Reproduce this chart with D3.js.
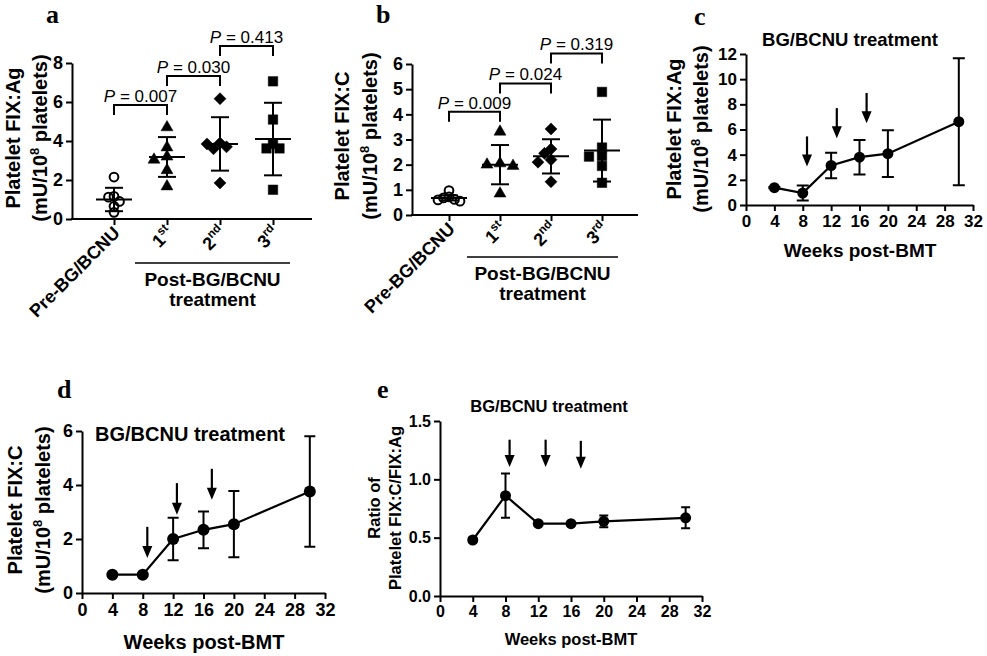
<!DOCTYPE html>
<html><head><meta charset="utf-8">
<script src="https://cdn.jsdelivr.net/npm/d3@7"></script>
<style>
body{margin:0;background:#fff}
svg{display:block}
</style>
</head><body>
<svg id="chart" width="987" height="656"></svg>
<script>
// ---------------- DATA ----------------
const groups = ["Pre-BG/BCNU", "1st", "2nd", "3rd"];
// panel a: platelet FIX:Ag (mU/10^8 platelets), individual values per group
const agValues = [
  [2.15, 1.16, 1.12, 0.9, 0.65, 0.34],
  [4.7, 3.67, 3.2, 3.04, 2.5, 1.67],
  [6.17, 3.9, 3.85, 3.7, 3.6, 1.85],
  [7.06, 5.1, 3.85, 3.62, 3.62, 1.5]
];
const agMean = [1.0, 3.18, 3.85, 4.1];
const agSD = [0.6, 1.02, 1.37, 1.86];
const agP = ["0.007", "0.030", "0.413"];
const agBracket = [5.85, 7.33, 8.87];
const agTicks = [0, 2, 4, 6, 8];

// panel b: platelet FIX:C
const cValues = [
  [0.97, 0.72, 0.68, 0.62, 0.6, 0.55],
  [3.31, 2.05, 2.0, 1.95, 0.85],
  [3.42, 2.62, 2.45, 2.2, 2.1, 1.32],
  [4.89, 2.68, 2.35, 2.32, 1.95, 1.28]
];
const cMean = [0.68, 2.0, 2.33, 2.56];
const cSD = [0.1, 0.78, 0.68, 1.23];
const cP = ["0.009", "0.024", "0.319"];
const cBracket = [4.1, 5.23, 6.42];
const cTicks = [0, 1, 2, 3, 4, 5, 6];

// time courses
const weeks = [4, 8, 12, 16, 20, 30];
const weekTicks = [0, 4, 8, 12, 16, 20, 24, 28, 32];
const timeAgMean = [1.38, 0.95, 3.14, 3.8, 4.08, 6.62];
const timeAgSD = [0.05, 0.6, 1.02, 1.37, 1.86, 5.05];
const timeCMean = [0.68, 0.68, 2.0, 2.34, 2.55, 3.76];
const timeCSD = [0.04, 0.04, 0.79, 0.68, 1.23, 2.05];
const ratioMean = [0.48, 0.86, 0.62, 0.62, 0.64, 0.67];
const ratioSD = [0.02, 0.19, 0.01, 0.01, 0.05, 0.09];
const agTimeTicks = [0, 2, 4, 6, 8, 10, 12];
const cTimeTicks = [0, 2, 4, 6];
const ratioTicks = [0, 0.5, 1.0, 1.5];

// treatment arrows (week, from value, to value)
const arrowsAgWeek = [8.6, 12.8, 17.0], arrowsAgFrom = [5.45, 7.7, 8.9], arrowsAgTo = [3.05, 5.3, 6.5];
const arrowsCWeek = [8.6, 12.5, 17.1], arrowsCFrom = [2.45, 4.07, 4.6], arrowsCTo = [1.3, 2.9, 3.45];
const arrowsRWeek = [8.5, 12.9, 17.2], arrowsRFrom = [1.34, 1.34, 1.33], arrowsRTo = [1.105, 1.105, 1.09];

// ---------------- DRAWING ----------------
const SANS = '"Liberation Sans", Arial, Helvetica, sans-serif';
const SERIF = '"Liberation Serif", "Times New Roman", serif';
const svg = d3.select("#chart");

function rich(sel, segs, size) {
  let up = false;
  segs.forEach(s => {
    const t = sel.append("tspan").text(s.t);
    if (s.sup) { t.attr("font-size", size * 0.65).attr("dy", -size * 0.42); up = true; }
    else if (up) { t.attr("dy", size * 0.42); up = false; }
  });
  return sel;
}

function styleAxis(a, size) {
  a.select(".domain").attr("stroke-width", 2).attr("stroke", "#000");
  a.selectAll(".tick line").attr("stroke-width", 2).attr("stroke", "#000");
  a.selectAll(".tick text").attr("font-family", SANS).attr("font-weight", "bold")
    .attr("font-size", size).attr("fill", "#000");
}

function panelLetter(ch, x, y, size) {
  svg.append("text").attr("x", x).attr("y", y).attr("font-family", SERIF)
    .attr("font-weight", "bold").attr("font-size", size).text(ch);
}

function yLabel(lines, xs, cy, size) {
  lines.forEach((segs, i) => {
    const t = svg.append("text").attr("transform", `translate(${xs[i]},${cy}) rotate(-90)`)
      .attr("text-anchor", "middle").attr("dy", "0.36em")
      .attr("font-family", SANS).attr("font-weight", "bold").attr("font-size", size);
    rich(t, segs, size);
  });
}

// simple scatter-dot (beeswarm-like) spreading of points with similar values
function swarm(vals, yScale, D, step) {
  const placed = [];
  return vals.map(v => {
    const py = yScale(v);
    for (let k = 0; k < 30; k++) {
      const off = k === 0 ? 0 : (k % 2 ? -1 : 1) * Math.ceil(k / 2) * step;
      if (placed.every(p => Math.hypot(p.dx - off, p.y - py) >= D)) { placed.push({dx: off, y: py}); return off; }
    }
    return 0;
  });
}

const shapes = [
  {type: d3.symbolCircle, size: 60, fill: "none", rot: 0, D: 5.5, step: 5.5},
  {type: d3.symbolTriangle, size: 62, fill: "#000", rot: 0, D: 7.5, step: 6.5},
  {type: d3.symbolSquare, size: 72, fill: "#000", rot: 45, D: 7.5, step: 6.5},
  {type: d3.symbolSquare, size: 90, fill: "#000", rot: 0, D: 7.5, step: 6.5}
];

function scatterPanel(cfg) {
  const g = svg.append("g");
  const y = d3.scaleLinear().domain([0, cfg.yMax]).range([cfg.y0, cfg.y1]);
  const x = d3.scalePoint().domain(groups).range(cfg.catRange);
  const ya = g.append("g").attr("transform", `translate(${cfg.ax},0)`)
    .call(d3.axisLeft(y).tickValues(cfg.ticks).tickSize(6).tickSizeOuter(0).tickPadding(3).tickFormat(d3.format("d")));
  styleAxis(ya, cfg.tickSize);
  const xa = g.append("g").attr("transform", `translate(0,${cfg.y0})`)
    .call(d3.axisBottom(x).tickSize(6).tickSizeOuter(0).tickFormat(""));
  xa.select(".domain").remove();
  styleAxis(xa, cfg.tickSize);
  g.append("line").attr("x1", cfg.ax - 1).attr("x2", cfg.xEnd).attr("y1", cfg.y0).attr("y2", cfg.y0)
    .attr("stroke", "#000").attr("stroke-width", 2);

  // points
  cfg.values.forEach((vals, gi) => {
    const sh = shapes[gi];
    const offs = swarm(vals, y, sh.D, sh.step);
    const sym = d3.symbol().type(sh.type).size(sh.size);
    vals.forEach((v, i) => {
      g.append("path").attr("d", sym())
        .attr("transform", `translate(${x(groups[gi]) + offs[i]},${y(v)}) rotate(${sh.rot})`)
        .attr("fill", sh.fill).attr("stroke", "#000").attr("stroke-width", sh.fill === "none" ? 2 : 0.5);
    });
  });
  // mean +- SD
  cfg.mean.forEach((m, gi) => {
    const cx = x(groups[gi]);
    const s = cfg.sd[gi];
    const ln = (x1, y1, x2, y2) => g.append("line").attr("x1", x1).attr("y1", y1).attr("x2", x2).attr("y2", y2)
      .attr("stroke", "#000").attr("stroke-width", 2);
    ln(cx - 18, y(m), cx + 18, y(m));
    ln(cx, y(m - s), cx, y(m + s));
    ln(cx - 9, y(m - s), cx + 9, y(m - s));
    ln(cx - 9, y(m + s), cx + 9, y(m + s));
  });
  // brackets
  cfg.p.forEach((p, i) => {
    const xa1 = x(groups[i]), xa2 = x(groups[i + 1]);
    const by = y(cfg.bracket[i]);
    g.append("path").attr("d", `M${xa1},${by + 10}V${by}H${xa2}V${by + 10}`)
      .attr("fill", "none").attr("stroke", "#000").attr("stroke-width", 2);
    const t = g.append("text").attr("x", (xa1 + xa2) / 2).attr("y", by - 3).attr("text-anchor", "middle")
      .attr("font-family", SANS).attr("font-size", 17);
    t.append("tspan").attr("font-style", "italic").text("P");
    t.append("tspan").text(" = " + p);
  });
  // category labels
  groups.forEach((c, gi) => {
    const t = g.append("text")
      .attr("transform", `translate(${x(c) + 7},${cfg.y0 + 15}) rotate(-45)`)
      .attr("text-anchor", "end").attr("font-family", SANS).attr("font-weight", "bold").attr("font-size", 18);
    if (gi === 0) t.text(c);
    else rich(t, [{t: c.slice(0, 1)}, {t: c.slice(1), sup: true}], 18);
  });
  // group bar
  g.append("line").attr("x1", cfg.postLine[0]).attr("x2", cfg.postLine[1])
    .attr("y1", cfg.postY).attr("y2", cfg.postY).attr("stroke", "#000").attr("stroke-width", 1.5);
  const mid = (cfg.postLine[0] + cfg.postLine[1]) / 2;
  ["Post-BG/BCNU", "treatment"].forEach((s, i) => {
    g.append("text").attr("x", mid).attr("y", cfg.postY + 23 + i * 20).attr("text-anchor", "middle")
      .attr("font-family", SANS).attr("font-weight", "bold").attr("font-size", 19).text(s);
  });
}

function linePanel(cfg) {
  const g = svg.append("g");
  const x = d3.scaleLinear().domain([0, 32]).range([cfg.ax, cfg.xEnd]);
  const y = d3.scaleLinear().domain([0, cfg.yMax]).range([cfg.y0, cfg.y1]);
  const ya = g.append("g").attr("transform", `translate(${cfg.ax},0)`)
    .call(d3.axisLeft(y).tickValues(cfg.ticks).tickSize(6).tickSizeOuter(0).tickPadding(3).tickFormat(cfg.fmt));
  styleAxis(ya, cfg.tickSize);
  const xa = g.append("g").attr("transform", `translate(0,${cfg.y0})`)
    .call(d3.axisBottom(x).tickValues(weekTicks).tickSize(6).tickSizeOuter(0).tickPadding(4).tickFormat(d3.format("d")));
  styleAxis(xa, cfg.tickSize);

  const pts = weeks.map((w, i) => [w, cfg.mean[i], cfg.sd[i]]);
  g.append("path").attr("d", d3.line().x(d => x(d[0])).y(d => y(d[1]))(pts))
    .attr("fill", "none").attr("stroke", "#000").attr("stroke-width", 2.2);
  pts.forEach(d => {
    const cx = x(d[0]);
    const lo = y(d[1] - d[2]), hi = y(d[1] + d[2]);
    g.append("path").attr("d", `M${cx},${lo}V${hi}M${cx - cfg.cap},${lo}H${cx + cfg.cap}M${cx - cfg.cap},${hi}H${cx + cfg.cap}`)
      .attr("stroke", "#000").attr("stroke-width", 2).attr("fill", "none");
    g.append("circle").attr("cx", cx).attr("cy", y(d[1])).attr("r", cfg.r).attr("fill", "#000");
  });
  // arrows
  cfg.arrowWeek.forEach((w, i) => {
    const ax = x(w), y1 = y(cfg.arrowFrom[i]), y2 = y(cfg.arrowTo[i]);
    g.append("line").attr("x1", ax).attr("x2", ax).attr("y1", y1).attr("y2", y2 - 8)
      .attr("stroke", "#000").attr("stroke-width", 2.2);
    g.append("path").attr("d", `M${ax - 5},${y2 - 12}L${ax + 5},${y2 - 12}L${ax},${y2}Z`).attr("fill", "#000");
  });
  // title
  g.append("text").attr("x", cfg.title[0]).attr("y", cfg.title[1]).attr("text-anchor", cfg.title[3])
    .attr("font-family", SANS).attr("font-weight", "bold").attr("font-size", cfg.title[2]).text("BG/BCNU treatment");
  // x label
  g.append("text").attr("x", cfg.xlab[0]).attr("y", cfg.xlab[1]).attr("text-anchor", "middle")
    .attr("font-family", SANS).attr("font-weight", "bold").attr("font-size", cfg.xlab[2]).text("Weeks post-BMT");
}

const unitLabel = [{t: "(mU/10"}, {t: "8", sup: true}, {t: " platelets)"}];

// Panel a
panelLetter("a", 46, 23, 26);
scatterPanel({ax: 72, xEnd: 312, y0: 219, y1: 63, yMax: 8, ticks: agTicks, tickSize: 18,
  catRange: [114, 273], values: agValues, mean: agMean, sd: agSD, p: agP, bracket: agBracket,
  postLine: [135, 290], postY: 263});
yLabel([[{t: "Platelet FIX:Ag"}], unitLabel], [13, 40], 138, 20);

// Panel b
panelLetter("b", 376, 23, 26);
scatterPanel({ax: 412, xEnd: 638, y0: 215, y1: 64, yMax: 6, ticks: cTicks, tickSize: 18,
  catRange: [449, 602], values: cValues, mean: cMean, sd: cSD, p: cP, bracket: cBracket,
  postLine: [467, 618], postY: 257});
yLabel([[{t: "Platelet FIX:C"}], unitLabel], [342, 370], 136, 20);

// Panel c
panelLetter("c", 694, 25, 26);
linePanel({ax: 746, xEnd: 973, y0: 205, y1: 54, yMax: 12, ticks: agTimeTicks, tickSize: 17, fmt: d3.format("d"),
  mean: timeAgMean, sd: timeAgSD, r: 5.5, cap: 6,
  arrowWeek: arrowsAgWeek, arrowFrom: arrowsAgFrom, arrowTo: arrowsAgTo,
  title: [850, 46, 18.5, "middle"], xlab: [860, 257, 19]});
yLabel([[{t: "Platelet FIX:Ag"}], unitLabel], [674, 701], 129, 20);

// Panel d
panelLetter("d", 57, 398, 26);
linePanel({ax: 82, xEnd: 325, y0: 593, y1: 431, yMax: 6, ticks: cTimeTicks, tickSize: 18, fmt: d3.format("d"),
  mean: timeCMean, sd: timeCSD, r: 6, cap: 5.5,
  arrowWeek: arrowsCWeek, arrowFrom: arrowsCFrom, arrowTo: arrowsCTo,
  title: [95, 441, 20, "start"], xlab: [204, 649, 20]});
yLabel([[{t: "Platelet FIX:C"}], unitLabel], [15, 43], 510, 20);

// Panel e
panelLetter("e", 377, 398, 26);
linePanel({ax: 440, xEnd: 702, y0: 596, y1: 421, yMax: 1.5, ticks: ratioTicks, tickSize: 16, fmt: d3.format(".1f"),
  mean: ratioMean, sd: ratioSD, r: 5.5, cap: 4.5,
  arrowWeek: arrowsRWeek, arrowFrom: arrowsRFrom, arrowTo: arrowsRTo,
  title: [549, 412, 16.6, "middle"], xlab: [571, 645, 16.5]});
yLabel([[{t: "Ratio of"}], [{t: "Platelet FIX:C/FIX:Ag"}]], [374, 395], 508, 16.5);
</script>
</body></html>
